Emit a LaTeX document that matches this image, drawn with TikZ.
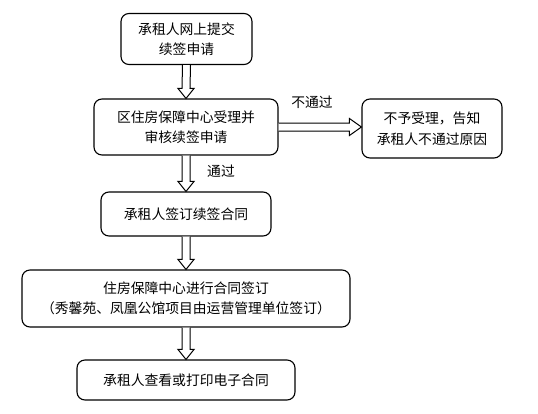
\documentclass[tikz,border=0pt]{standalone}
\usepackage{fontspec}
\setmainfont{Noto Sans CJK SC}
\usetikzlibrary{calc}
\tikzset{
  box/.style={draw, line width=1.1pt, rounded corners=8pt, align=center, inner sep=0pt,
    font=\fontsize{13.8}{20.5}\selectfont},
  lbl/.style={font=\fontsize{13.8}{16}\selectfont, inner sep=0pt},
  harrow/.style={draw, line width=1pt, fill=white, line join=miter}
}
\newcommand\downarr[2]{%
  \path[harrow] ($(#1.south)+(-4,0)$) -- ($(#2.north)+(-4,-10)$) -- ($(#2.north)+(-8,-10)$)
    -- (#2.north) -- ($(#2.north)+(8,-10)$) -- ($(#2.north)+(4,-10)$) -- ($(#1.south)+(4,0)$);}
\begin{document}
\begin{tikzpicture}[x=1pt,y=-1pt]
\useasboundingbox (0,0) rectangle (538,413);
\node[box, minimum width=131pt, minimum height=51pt] (b1) at (186.5,39) {承租人网上提交\\续签申请};
\node[box, minimum width=184pt, minimum height=56pt] (b2) at (186,127) {区住房保障中心受理并\\审核续签申请};
\node[box, minimum width=140pt, minimum height=59pt] (b3) at (432,128.5) {不予受理，告知\\承租人不通过原因};
\node[box, minimum width=170pt, minimum height=44pt] (b4) at (186,214) {承租人签订续签合同};
\node[box, minimum width=328pt, minimum height=57pt] (b5) at (186,298.5) {住房保障中心进行合同签订\\（秀馨苑、凤凰公馆项目由运营管理单位签订）};
\node[box, minimum width=218pt, minimum height=40pt] (b6) at (186,380) {承租人查看或打印电子合同};
\downarr{b1}{b2}
\downarr{b2}{b4}
\downarr{b4}{b5}
\downarr{b5}{b6}
\coordinate (t3) at (b3.west |- b2.east);
\path[harrow] ($(b2.east)+(0,-4)$) -- ($(t3)+(-12,-4)$) -- ($(t3)+(-12,-8.5)$) -- (t3)
  -- ($(t3)+(-12,8.5)$) -- ($(t3)+(-12,4)$) -- ($(b2.east)+(0,4)$);
\node[lbl] (n1) at (312,102) {不通过};
\node[lbl] (n2) at (221,171.5) {通过};
\end{tikzpicture}
\end{document}
